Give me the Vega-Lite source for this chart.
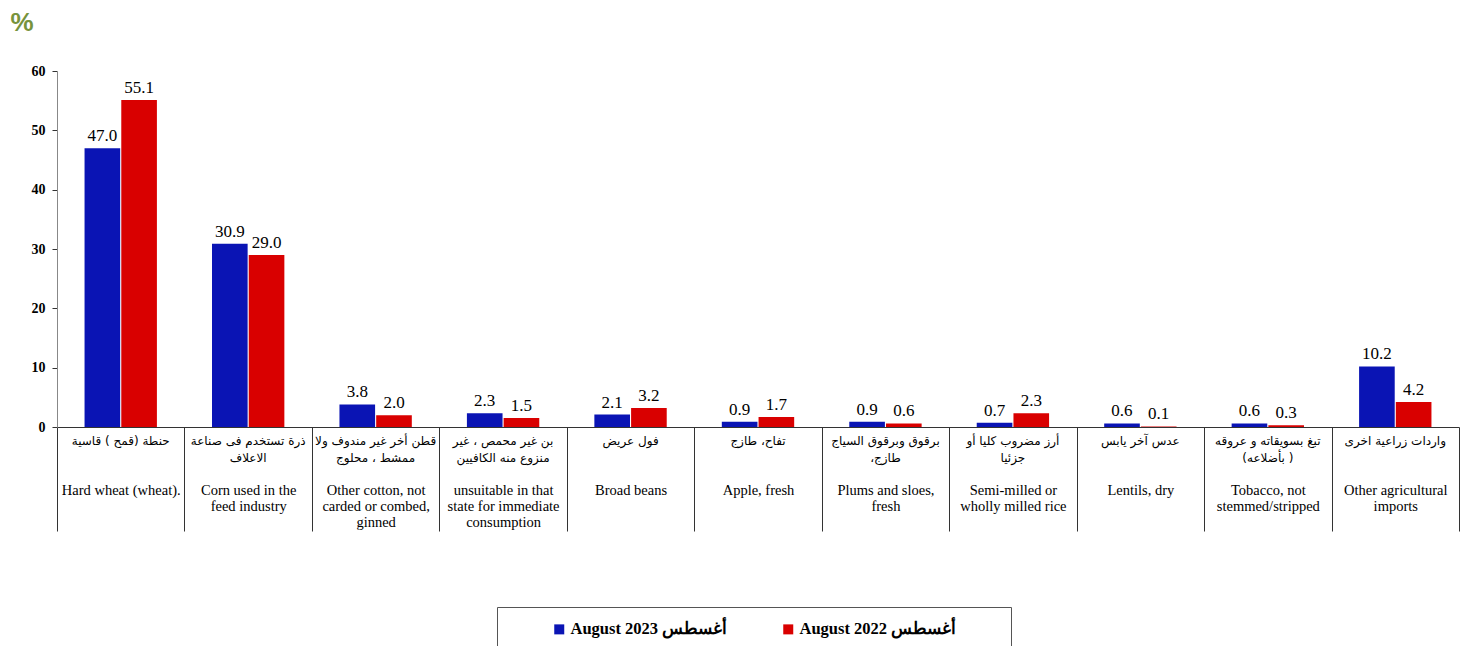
{
  "$schema": "https://vega.github.io/schema/vega-lite/v6.json",
  "width": 1402,
  "height": 356,
  "autosize": {"type": "none"},
  "padding": {"left": 57, "top": 71, "right": 13, "bottom": 219},
  "background": "white",
  "config": {"view": {"stroke": null}, "font": "Liberation Serif"},
  "data": {
    "values": [
      {"en": "Hard wheat (wheat).", "ar": "حنطة (قمح ) قاسية", "series": "August 2023 أغسطس", "value": 47.0},
      {"en": "Hard wheat (wheat).", "ar": "حنطة (قمح ) قاسية", "series": "August  2022 أغسطس", "value": 55.1},
      {"en": "Corn used in the|feed industry", "ar": "ذرة تستخدم فى صناعة|الاعلاف", "series": "August 2023 أغسطس", "value": 30.9},
      {"en": "Corn used in the|feed industry", "ar": "ذرة تستخدم فى صناعة|الاعلاف", "series": "August  2022 أغسطس", "value": 29.0},
      {"en": "Other cotton, not|carded or combed,|ginned", "ar": "قطن أخر غير مندوف ولا|ممشط ، محلوج", "series": "August 2023 أغسطس", "value": 3.8},
      {"en": "Other cotton, not|carded or combed,|ginned", "ar": "قطن أخر غير مندوف ولا|ممشط ، محلوج", "series": "August  2022 أغسطس", "value": 2.0},
      {"en": "unsuitable in that|state for immediate|consumption", "ar": "بن غير محمص ،  غير|منزوع منه الكافيين", "series": "August 2023 أغسطس", "value": 2.3},
      {"en": "unsuitable in that|state for immediate|consumption", "ar": "بن غير محمص ،  غير|منزوع منه الكافيين", "series": "August  2022 أغسطس", "value": 1.5},
      {"en": "Broad beans", "ar": "فول عريض", "series": "August 2023 أغسطس", "value": 2.1},
      {"en": "Broad beans", "ar": "فول عريض", "series": "August  2022 أغسطس", "value": 3.2},
      {"en": "Apple, fresh", "ar": "تفاح،  طازج", "series": "August 2023 أغسطس", "value": 0.9},
      {"en": "Apple, fresh", "ar": "تفاح،  طازج", "series": "August  2022 أغسطس", "value": 1.7},
      {"en": "Plums and sloes,|fresh", "ar": "برقوق وبرقوق السياج|،طازج", "series": "August 2023 أغسطس", "value": 0.9},
      {"en": "Plums and sloes,|fresh", "ar": "برقوق وبرقوق السياج|،طازج", "series": "August  2022 أغسطس", "value": 0.6},
      {"en": "Semi-milled or|wholly milled rice", "ar": "أرز مضروب كليا أو|جزئيا", "series": "August 2023 أغسطس", "value": 0.7},
      {"en": "Semi-milled or|wholly milled rice", "ar": "أرز مضروب كليا أو|جزئيا", "series": "August  2022 أغسطس", "value": 2.3},
      {"en": "Lentils, dry", "ar": "عدس آخر يابس", "series": "August 2023 أغسطس", "value": 0.6},
      {"en": "Lentils, dry", "ar": "عدس آخر يابس", "series": "August  2022 أغسطس", "value": 0.1},
      {"en": "Tobacco, not|stemmed/stripped", "ar": "تبغ بسويقاته و عروقه|(بأضلاعه )", "series": "August 2023 أغسطس", "value": 0.6},
      {"en": "Tobacco, not|stemmed/stripped", "ar": "تبغ بسويقاته و عروقه|(بأضلاعه )", "series": "August  2022 أغسطس", "value": 0.3},
      {"en": "Other agricultural|imports", "ar": "واردات زراعية اخرى", "series": "August 2023 أغسطس", "value": 10.2},
      {"en": "Other agricultural|imports", "ar": "واردات زراعية اخرى", "series": "August  2022 أغسطس", "value": 4.2}
    ]
  },
  "encoding": {
    "x": {
      "field": "en",
      "type": "nominal",
      "sort": null,
      "scale": {"paddingInner": 0, "paddingOuter": 0},
      "axis": {
        "title": null,
        "labelAngle": 0,
        "labelExpr": "split(datum.label, '|')",
        "labelBaseline": "top",
        "labelAlign": "center",
        "labelPadding": -48,
        "labelLineHeight": 16,
        "labelFontSize": 14.5,
        "labelFont": "Liberation Serif",
        "labelColor": "black",
        "labelLimit": 0,
        "tickBand": "extent",
        "tickSize": 104,
        "tickColor": "#333333",
        "domainColor": "#333333",
        "labelOverlap": false
      }
    },
    "y": {
      "field": "value",
      "type": "quantitative",
      "scale": {"domain": [0, 60]},
      "axis": {
        "values": [0, 10, 20, 30, 40, 50, 60],
        "grid": false,
        "title": "%",
        "titleAngle": 0,
        "titleAlign": "left",
        "titleBaseline": "top",
        "titleX": -47,
        "titleY": -62,
        "titleFont": "Liberation Sans",
        "titleFontSize": 26,
        "titleFontWeight": "bold",
        "titleColor": "#77933C",
        "labelFont": "Liberation Serif",
        "labelFontSize": 14,
        "labelFontWeight": "bold",
        "labelColor": "black",
        "labelPadding": 7,
        "tickSize": 5,
        "tickColor": "#333333",
        "domainColor": "#888888"
      }
    }
  },
  "layer": [
    {
      "mark": {"type": "bar"},
      "encoding": {
        "xOffset": {
          "field": "series",
          "type": "nominal",
          "sort": ["August 2023 أغسطس", "August  2022 أغسطس"],
          "scale": {"paddingInner": 0.03, "paddingOuter": 0.75}
        },
        "color": {
          "field": "series",
          "type": "nominal",
          "sort": ["August 2023 أغسطس", "August  2022 أغسطس"],
          "scale": {"domain": ["August 2023 أغسطس", "August  2022 أغسطس"], "range": ["#0A14B4", "#D90000"]},
          "legend": {
            "orient": "none",
            "legendX": 440,
            "legendY": 536,
            "direction": "horizontal",
            "title": " ",
            "titleOrient": "left",
            "titlePadding": 40,
            "padding": 14,
            "strokeColor": "#555555",
            "fillColor": "white",
            "symbolType": "square",
            "symbolSize": 100,
            "symbolStrokeWidth": 0,
            "labelFont": "Liberation Serif",
            "labelFontSize": 16.5,
            "labelFontWeight": "bold",
            "labelColor": "black",
            "labelOffset": 3,
            "labelLimit": 0,
            "labelExpr": "datum.label == 'August  2022 أغسطس' ? datum.label + '\u2800\u2800\u2800' : datum.label",
            "columnPadding": 52
          }
        }
      }
    },
    {
      "mark": {"type": "text", "baseline": "bottom", "dy": -3, "fontSize": 17, "font": "Liberation Serif", "color": "black"},
      "encoding": {
        "xOffset": {
          "field": "series",
          "type": "nominal",
          "sort": ["August 2023 أغسطس", "August  2022 أغسطس"],
          "scale": {"paddingInner": 0.03, "paddingOuter": 0.75}
        },
        "text": {"field": "value", "type": "quantitative", "format": ".1f"}
      }
    },
    {
      "transform": [{"filter": "datum.series == 'August 2023 أغسطس'"}],
      "mark": {"type": "text", "baseline": "top", "dy": 9, "fontSize": 12, "font": "DejaVu Sans", "color": "black", "lineBreak": "|", "lineHeight": 17},
      "encoding": {
        "y": {"datum": 0},
        "text": {"field": "ar", "type": "nominal"}
      }
    }
  ]
}
